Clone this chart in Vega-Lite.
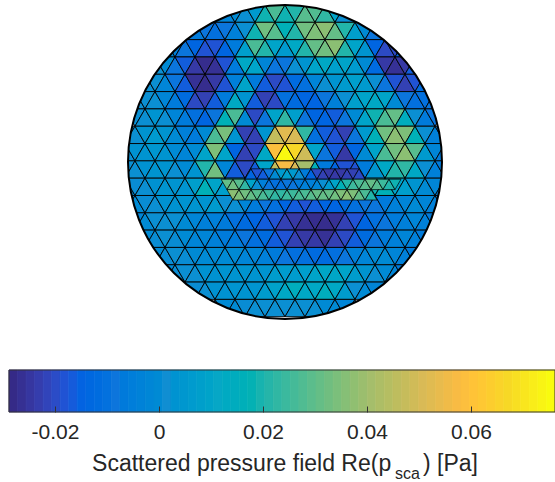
{"$schema":"https://vega.github.io/schema/vega-lite/v6.json","padding":0,"background":"white","spacing":0,"config":{"view":{"stroke":null}},
"datasets":{"tri":[
{"i":-7,"j":0,"v":-0.005,"s":1},{"i":-6,"j":0,"v":-0.003,"s":0},{"i":-5,"j":0,"v":-0.001,"s":1},{"i":-4,"j":0,"v":0.001,"s":0},{"i":-3,"j":0,"v":0.005,"s":1},{"i":-2,"j":0,"v":0.018,"s":0},{"i":-1,"j":0,"v":0.026,"s":1},{"i":0,"j":0,"v":0.018,"s":0},{"i":1,"j":0,"v":0.02,"s":1},{"i":2,"j":0,"v":0.028,"s":0},{"i":3,"j":0,"v":0.027,"s":1},{"i":4,"j":0,"v":0.022,"s":0},{"i":5,"j":0,"v":0.009,"s":1},{"i":6,"j":0,"v":0.001,"s":0},{"i":7,"j":0,"v":-0.003,"s":1},
{"i":-10,"j":1,"v":-0.005,"s":1},{"i":-9,"j":1,"v":-0.007,"s":0},{"i":-8,"j":1,"v":-0.009,"s":1},{"i":-7,"j":1,"v":-0.011,"s":0},{"i":-6,"j":1,"v":-0.009,"s":1},{"i":-5,"j":1,"v":-0.005,"s":0},{"i":-4,"j":1,"v":0.001,"s":1},{"i":-3,"j":1,"v":0.018,"s":0},{"i":-2,"j":1,"v":0.032,"s":1},{"i":-1,"j":1,"v":0.028,"s":0},{"i":0,"j":1,"v":0.016,"s":1},{"i":1,"j":1,"v":0.02,"s":0},{"i":2,"j":1,"v":0.032,"s":1},{"i":3,"j":1,"v":0.034,"s":0},{"i":4,"j":1,"v":0.036,"s":1},{"i":5,"j":1,"v":0.03,"s":0},{"i":6,"j":1,"v":0.02,"s":1},{"i":7,"j":1,"v":0.007,"s":0},{"i":8,"j":1,"v":-0.001,"s":1},{"i":9,"j":1,"v":-0.009,"s":0},{"i":10,"j":1,"v":-0.013,"s":1},
{"i":-12,"j":2,"v":-0.001,"s":0},{"i":-11,"j":2,"v":-0.005,"s":1},{"i":-10,"j":2,"v":-0.009,"s":0},{"i":-9,"j":2,"v":-0.015,"s":1},{"i":-8,"j":2,"v":-0.019,"s":0},{"i":-7,"j":2,"v":-0.019,"s":1},{"i":-6,"j":2,"v":-0.015,"s":0},{"i":-5,"j":2,"v":-0.007,"s":1},{"i":-4,"j":2,"v":0.007,"s":0},{"i":-3,"j":2,"v":0.026,"s":1},{"i":-2,"j":2,"v":0.02,"s":0},{"i":-1,"j":2,"v":0.009,"s":1},{"i":0,"j":2,"v":0.005,"s":0},{"i":1,"j":2,"v":0.011,"s":1},{"i":2,"j":2,"v":0.02,"s":0},{"i":3,"j":2,"v":0.03,"s":1},{"i":4,"j":2,"v":0.032,"s":0},{"i":5,"j":2,"v":0.036,"s":1},{"i":6,"j":2,"v":0.02,"s":0},{"i":7,"j":2,"v":0.009,"s":1},{"i":8,"j":2,"v":0.003,"s":0},{"i":9,"j":2,"v":-0.015,"s":1},{"i":10,"j":2,"v":-0.021,"s":0},{"i":11,"j":2,"v":-0.021,"s":1},{"i":12,"j":2,"v":-0.015,"s":0},
{"i":-13,"j":3,"v":0.001,"s":0},{"i":-12,"j":3,"v":-0.001,"s":1},{"i":-11,"j":3,"v":-0.009,"s":0},{"i":-10,"j":3,"v":-0.017,"s":1},{"i":-9,"j":3,"v":-0.025,"s":0},{"i":-8,"j":3,"v":-0.028,"s":1},{"i":-7,"j":3,"v":-0.027,"s":0},{"i":-6,"j":3,"v":-0.019,"s":1},{"i":-5,"j":3,"v":-0.007,"s":0},{"i":-4,"j":3,"v":0.011,"s":1},{"i":-3,"j":3,"v":0.009,"s":0},{"i":-2,"j":3,"v":-0.003,"s":1},{"i":-1,"j":3,"v":-0.009,"s":0},{"i":0,"j":3,"v":-0.009,"s":1},{"i":1,"j":3,"v":0.001,"s":0},{"i":2,"j":3,"v":0.003,"s":1},{"i":3,"j":3,"v":0.009,"s":0},{"i":4,"j":3,"v":0.011,"s":1},{"i":5,"j":3,"v":0.007,"s":0},{"i":6,"j":3,"v":0.009,"s":1},{"i":7,"j":3,"v":0.005,"s":0},{"i":8,"j":3,"v":-0.001,"s":1},{"i":9,"j":3,"v":-0.013,"s":0},{"i":10,"j":3,"v":-0.025,"s":1},{"i":11,"j":3,"v":-0.027,"s":0},{"i":12,"j":3,"v":-0.025,"s":1},{"i":13,"j":3,"v":-0.017,"s":0},
{"i":-14,"j":4,"v":0.001,"s":0},{"i":-13,"j":4,"v":0.001,"s":1},{"i":-12,"j":4,"v":-0.003,"s":0},{"i":-11,"j":4,"v":-0.009,"s":1},{"i":-10,"j":4,"v":-0.017,"s":0},{"i":-9,"j":4,"v":-0.027,"s":1},{"i":-8,"j":4,"v":-0.028,"s":0},{"i":-7,"j":4,"v":-0.025,"s":1},{"i":-6,"j":4,"v":-0.019,"s":0},{"i":-5,"j":4,"v":-0.005,"s":1},{"i":-4,"j":4,"v":0.009,"s":0},{"i":-3,"j":4,"v":-0.007,"s":1},{"i":-2,"j":4,"v":-0.017,"s":0},{"i":-1,"j":4,"v":-0.021,"s":1},{"i":0,"j":4,"v":-0.019,"s":0},{"i":1,"j":4,"v":-0.013,"s":1},{"i":2,"j":4,"v":-0.011,"s":0},{"i":3,"j":4,"v":-0.003,"s":1},{"i":4,"j":4,"v":0.001,"s":0},{"i":5,"j":4,"v":0.003,"s":1},{"i":6,"j":4,"v":0.005,"s":0},{"i":7,"j":4,"v":0.007,"s":1},{"i":8,"j":4,"v":0.005,"s":0},{"i":9,"j":4,"v":0.001,"s":1},{"i":10,"j":4,"v":-0.009,"s":0},{"i":11,"j":4,"v":-0.019,"s":1},{"i":12,"j":4,"v":-0.023,"s":0},{"i":13,"j":4,"v":-0.019,"s":1},{"i":14,"j":4,"v":-0.013,"s":0},
{"i":-15,"j":5,"v":0.001,"s":0},{"i":-14,"j":5,"v":0.001,"s":1},{"i":-13,"j":5,"v":0.001,"s":0},{"i":-12,"j":5,"v":-0.003,"s":1},{"i":-11,"j":5,"v":-0.007,"s":0},{"i":-10,"j":5,"v":-0.013,"s":1},{"i":-9,"j":5,"v":-0.021,"s":0},{"i":-8,"j":5,"v":-0.023,"s":1},{"i":-7,"j":5,"v":-0.017,"s":0},{"i":-6,"j":5,"v":-0.007,"s":1},{"i":-5,"j":5,"v":0.012,"s":0},{"i":-4,"j":5,"v":0.003,"s":1},{"i":-3,"j":5,"v":-0.017,"s":0},{"i":-2,"j":5,"v":-0.023,"s":1},{"i":-1,"j":5,"v":-0.021,"s":0},{"i":0,"j":5,"v":-0.011,"s":1},{"i":1,"j":5,"v":-0.013,"s":0},{"i":2,"j":5,"v":-0.015,"s":1},{"i":3,"j":5,"v":-0.015,"s":0},{"i":4,"j":5,"v":-0.009,"s":1},{"i":5,"j":5,"v":-0.005,"s":0},{"i":6,"j":5,"v":0.001,"s":1},{"i":7,"j":5,"v":0.007,"s":0},{"i":8,"j":5,"v":0.009,"s":1},{"i":9,"j":5,"v":0.011,"s":0},{"i":10,"j":5,"v":0.009,"s":1},{"i":11,"j":5,"v":-0.001,"s":0},{"i":12,"j":5,"v":-0.009,"s":1},{"i":13,"j":5,"v":-0.011,"s":0},{"i":14,"j":5,"v":-0.011,"s":1},{"i":15,"j":5,"v":-0.009,"s":0},
{"i":-15,"j":6,"v":0.001,"s":1},{"i":-14,"j":6,"v":0.001,"s":0},{"i":-13,"j":6,"v":0.003,"s":1},{"i":-12,"j":6,"v":0.001,"s":0},{"i":-11,"j":6,"v":-0.003,"s":1},{"i":-10,"j":6,"v":-0.007,"s":0},{"i":-9,"j":6,"v":-0.011,"s":1},{"i":-8,"j":6,"v":-0.015,"s":0},{"i":-7,"j":6,"v":-0.009,"s":1},{"i":-6,"j":6,"v":0.016,"s":0},{"i":-5,"j":6,"v":0.026,"s":1},{"i":-4,"j":6,"v":-0.001,"s":0},{"i":-3,"j":6,"v":-0.021,"s":1},{"i":-2,"j":6,"v":-0.009,"s":0},{"i":-1,"j":6,"v":0.009,"s":1},{"i":0,"j":6,"v":0.022,"s":0},{"i":1,"j":6,"v":0.007,"s":1},{"i":2,"j":6,"v":-0.009,"s":0},{"i":3,"j":6,"v":-0.015,"s":1},{"i":4,"j":6,"v":-0.015,"s":0},{"i":5,"j":6,"v":-0.017,"s":1},{"i":6,"j":6,"v":-0.009,"s":0},{"i":7,"j":6,"v":-0.001,"s":1},{"i":8,"j":6,"v":0.009,"s":0},{"i":9,"j":6,"v":0.018,"s":1},{"i":10,"j":6,"v":0.026,"s":0},{"i":11,"j":6,"v":0.03,"s":1},{"i":12,"j":6,"v":0.014,"s":0},{"i":13,"j":6,"v":0.001,"s":1},{"i":14,"j":6,"v":-0.007,"s":0},{"i":15,"j":6,"v":-0.009,"s":1},
{"i":-16,"j":7,"v":0.001,"s":1},{"i":-15,"j":7,"v":0.001,"s":0},{"i":-14,"j":7,"v":0.003,"s":1},{"i":-13,"j":7,"v":0.005,"s":0},{"i":-12,"j":7,"v":0.003,"s":1},{"i":-11,"j":7,"v":-0.001,"s":0},{"i":-10,"j":7,"v":-0.005,"s":1},{"i":-9,"j":7,"v":-0.007,"s":0},{"i":-8,"j":7,"v":-0.001,"s":1},{"i":-7,"j":7,"v":0.026,"s":0},{"i":-6,"j":7,"v":0.033,"s":1},{"i":-5,"j":7,"v":0.003,"s":0},{"i":-4,"j":7,"v":-0.023,"s":1},{"i":-3,"j":7,"v":-0.023,"s":0},{"i":-2,"j":7,"v":0.003,"s":1},{"i":-1,"j":7,"v":0.046,"s":0},{"i":0,"j":7,"v":0.052,"s":1},{"i":1,"j":7,"v":0.05,"s":0},{"i":2,"j":7,"v":0.022,"s":1},{"i":3,"j":7,"v":-0.011,"s":0},{"i":4,"j":7,"v":-0.017,"s":1},{"i":5,"j":7,"v":-0.019,"s":0},{"i":6,"j":7,"v":-0.023,"s":1},{"i":7,"j":7,"v":-0.009,"s":0},{"i":8,"j":7,"v":0.005,"s":1},{"i":9,"j":7,"v":0.016,"s":0},{"i":10,"j":7,"v":0.032,"s":1},{"i":11,"j":7,"v":0.036,"s":0},{"i":12,"j":7,"v":0.034,"s":1},{"i":13,"j":7,"v":0.016,"s":0},{"i":14,"j":7,"v":0.001,"s":1},{"i":15,"j":7,"v":-0.005,"s":0},{"i":16,"j":7,"v":-0.007,"s":1},
{"i":-16,"j":8,"v":0.001,"s":0},{"i":-15,"j":8,"v":0.002,"s":1},{"i":-14,"j":8,"v":0.003,"s":0},{"i":-13,"j":8,"v":0.004,"s":1},{"i":-12,"j":8,"v":0.003,"s":0},{"i":-11,"j":8,"v":-0.001,"s":1},{"i":-10,"j":8,"v":-0.003,"s":0},{"i":-9,"j":8,"v":-0.001,"s":1},{"i":-8,"j":8,"v":0.009,"s":0},{"i":-7,"j":8,"v":0.034,"s":1},{"i":-6,"j":8,"v":0.009,"s":0},{"i":-5,"j":8,"v":-0.015,"s":1},{"i":-4,"j":8,"v":-0.023,"s":0},{"i":-3,"j":8,"v":-0.021,"s":1},{"i":-2,"j":8,"v":0.011,"s":0},{"i":-1,"j":8,"v":0.058,"s":1},{"i":0,"j":8,"v":0.074,"s":0},{"i":1,"j":8,"v":0.066,"s":1},{"i":2,"j":8,"v":0.048,"s":0},{"i":3,"j":8,"v":0.009,"s":1},{"i":4,"j":8,"v":-0.009,"s":0},{"i":5,"j":8,"v":-0.017,"s":1},{"i":6,"j":8,"v":-0.025,"s":0},{"i":7,"j":8,"v":-0.015,"s":1},{"i":8,"j":8,"v":-0.001,"s":0},{"i":9,"j":8,"v":0.009,"s":1},{"i":10,"j":8,"v":0.026,"s":0},{"i":11,"j":8,"v":0.032,"s":1},{"i":12,"j":8,"v":0.036,"s":0},{"i":13,"j":8,"v":0.028,"s":1},{"i":14,"j":8,"v":0.005,"s":0},{"i":15,"j":8,"v":-0.003,"s":1},{"i":16,"j":8,"v":-0.007,"s":0},
{"i":-16,"j":9,"v":0.001,"s":1},{"i":-15,"j":9,"v":0.001,"s":0},{"i":-14,"j":9,"v":0.002,"s":1},{"i":-13,"j":9,"v":0.003,"s":0},{"i":-12,"j":9,"v":0.003,"s":1},{"i":-11,"j":9,"v":0.001,"s":0},{"i":-10,"j":9,"v":-0.001,"s":1},{"i":-9,"j":9,"v":0.003,"s":0},{"i":-8,"j":9,"v":0.02,"s":1},{"i":-7,"j":9,"v":0.032,"s":0},{"i":-6,"j":9,"v":-0.003,"s":1},{"i":-5,"j":9,"v":-0.017,"s":0},{"i":-4,"j":9,"v":-0.021,"s":1},{"i":-3,"j":9,"v":-0.017,"s":0},{"i":-2,"j":9,"v":0.009,"s":1},{"i":-1,"j":9,"v":0.046,"s":0},{"i":0,"j":9,"v":0.056,"s":1},{"i":1,"j":9,"v":0.05,"s":0},{"i":2,"j":9,"v":0.04,"s":1},{"i":3,"j":9,"v":0.016,"s":0},{"i":4,"j":9,"v":-0.007,"s":1},{"i":5,"j":9,"v":-0.015,"s":0},{"i":6,"j":9,"v":-0.019,"s":1},{"i":7,"j":9,"v":-0.019,"s":0},{"i":8,"j":9,"v":-0.007,"s":1},{"i":9,"j":9,"v":0.003,"s":0},{"i":10,"j":9,"v":0.011,"s":1},{"i":11,"j":9,"v":0.02,"s":0},{"i":12,"j":9,"v":0.022,"s":1},{"i":13,"j":9,"v":0.011,"s":0},{"i":14,"j":9,"v":0.001,"s":1},{"i":15,"j":9,"v":-0.005,"s":0},{"i":16,"j":9,"v":-0.007,"s":1},
{"i":-16,"j":10,"v":-0.001,"s":0},{"i":-15,"j":10,"v":0.0,"s":1},{"i":-14,"j":10,"v":0.001,"s":0},{"i":-13,"j":10,"v":0.002,"s":1},{"i":-12,"j":10,"v":0.003,"s":0},{"i":-11,"j":10,"v":0.003,"s":1},{"i":-10,"j":10,"v":0.003,"s":0},{"i":-9,"j":10,"v":0.007,"s":1},{"i":-8,"j":10,"v":0.016,"s":0},{"i":-7,"j":10,"v":0.009,"s":1},{"i":-6,"j":10,"v":0.007,"s":0},{"i":-5,"j":10,"v":0.018,"s":1},{"i":-4,"j":10,"v":0.009,"s":0},{"i":-3,"j":10,"v":0.001,"s":1},{"i":-2,"j":10,"v":-0.007,"s":0},{"i":-1,"j":10,"v":-0.013,"s":1},{"i":0,"j":10,"v":-0.017,"s":0},{"i":1,"j":10,"v":-0.015,"s":1},{"i":2,"j":10,"v":-0.009,"s":0},{"i":3,"j":10,"v":-0.013,"s":1},{"i":4,"j":10,"v":-0.015,"s":0},{"i":5,"j":10,"v":-0.011,"s":1},{"i":6,"j":10,"v":-0.001,"s":0},{"i":7,"j":10,"v":0.005,"s":1},{"i":8,"j":10,"v":0.009,"s":0},{"i":9,"j":10,"v":0.018,"s":1},{"i":10,"j":10,"v":0.016,"s":0},{"i":11,"j":10,"v":0.009,"s":1},{"i":12,"j":10,"v":0.007,"s":0},{"i":13,"j":10,"v":0.003,"s":1},{"i":14,"j":10,"v":-0.001,"s":0},{"i":15,"j":10,"v":-0.003,"s":1},{"i":16,"j":10,"v":-0.005,"s":0},
{"i":-16,"j":11,"v":-0.003,"s":1},{"i":-15,"j":11,"v":-0.001,"s":0},{"i":-14,"j":11,"v":0.0,"s":1},{"i":-13,"j":11,"v":0.001,"s":0},{"i":-12,"j":11,"v":0.002,"s":1},{"i":-11,"j":11,"v":0.002,"s":0},{"i":-10,"j":11,"v":0.003,"s":1},{"i":-9,"j":11,"v":0.003,"s":0},{"i":-8,"j":11,"v":0.003,"s":1},{"i":-7,"j":11,"v":0.005,"s":0},{"i":-6,"j":11,"v":0.001,"s":1},{"i":-5,"j":11,"v":0.001,"s":0},{"i":-4,"j":11,"v":-0.003,"s":1},{"i":-3,"j":11,"v":-0.007,"s":0},{"i":-2,"j":11,"v":-0.009,"s":1},{"i":-1,"j":11,"v":-0.011,"s":0},{"i":0,"j":11,"v":-0.015,"s":1},{"i":1,"j":11,"v":-0.017,"s":0},{"i":2,"j":11,"v":-0.019,"s":1},{"i":3,"j":11,"v":-0.017,"s":0},{"i":4,"j":11,"v":-0.015,"s":1},{"i":5,"j":11,"v":-0.015,"s":0},{"i":6,"j":11,"v":-0.013,"s":1},{"i":7,"j":11,"v":-0.011,"s":0},{"i":8,"j":11,"v":-0.009,"s":1},{"i":9,"j":11,"v":-0.009,"s":0},{"i":10,"j":11,"v":-0.007,"s":1},{"i":11,"j":11,"v":-0.005,"s":0},{"i":12,"j":11,"v":-0.003,"s":1},{"i":13,"j":11,"v":-0.001,"s":0},{"i":14,"j":11,"v":-0.003,"s":1},{"i":15,"j":11,"v":-0.005,"s":0},{"i":16,"j":11,"v":-0.007,"s":1},
{"i":-15,"j":12,"v":-0.003,"s":1},{"i":-14,"j":12,"v":-0.001,"s":0},{"i":-13,"j":12,"v":0.001,"s":1},{"i":-12,"j":12,"v":0.001,"s":0},{"i":-11,"j":12,"v":0.001,"s":1},{"i":-10,"j":12,"v":-0.001,"s":0},{"i":-9,"j":12,"v":-0.003,"s":1},{"i":-8,"j":12,"v":-0.005,"s":0},{"i":-7,"j":12,"v":-0.005,"s":1},{"i":-6,"j":12,"v":-0.007,"s":0},{"i":-5,"j":12,"v":-0.011,"s":1},{"i":-4,"j":12,"v":-0.013,"s":0},{"i":-3,"j":12,"v":-0.015,"s":1},{"i":-2,"j":12,"v":-0.017,"s":0},{"i":-1,"j":12,"v":-0.019,"s":1},{"i":0,"j":12,"v":-0.023,"s":0},{"i":1,"j":12,"v":-0.025,"s":1},{"i":2,"j":12,"v":-0.027,"s":0},{"i":3,"j":12,"v":-0.028,"s":1},{"i":4,"j":12,"v":-0.028,"s":0},{"i":5,"j":12,"v":-0.027,"s":1},{"i":6,"j":12,"v":-0.023,"s":0},{"i":7,"j":12,"v":-0.019,"s":1},{"i":8,"j":12,"v":-0.015,"s":0},{"i":9,"j":12,"v":-0.011,"s":1},{"i":10,"j":12,"v":-0.009,"s":0},{"i":11,"j":12,"v":-0.007,"s":1},{"i":12,"j":12,"v":-0.005,"s":0},{"i":13,"j":12,"v":-0.003,"s":1},{"i":14,"j":12,"v":-0.005,"s":0},{"i":15,"j":12,"v":-0.007,"s":1},
{"i":-14,"j":13,"v":-0.001,"s":1},{"i":-13,"j":13,"v":0.0,"s":0},{"i":-12,"j":13,"v":0.001,"s":1},{"i":-11,"j":13,"v":0.0,"s":0},{"i":-10,"j":13,"v":-0.001,"s":1},{"i":-9,"j":13,"v":-0.003,"s":0},{"i":-8,"j":13,"v":-0.003,"s":1},{"i":-7,"j":13,"v":-0.005,"s":0},{"i":-6,"j":13,"v":-0.007,"s":1},{"i":-5,"j":13,"v":-0.007,"s":0},{"i":-4,"j":13,"v":-0.009,"s":1},{"i":-3,"j":13,"v":-0.011,"s":0},{"i":-2,"j":13,"v":-0.013,"s":1},{"i":-1,"j":13,"v":-0.017,"s":0},{"i":0,"j":13,"v":-0.019,"s":1},{"i":1,"j":13,"v":-0.023,"s":0},{"i":2,"j":13,"v":-0.025,"s":1},{"i":3,"j":13,"v":-0.025,"s":0},{"i":4,"j":13,"v":-0.027,"s":1},{"i":5,"j":13,"v":-0.023,"s":0},{"i":6,"j":13,"v":-0.021,"s":1},{"i":7,"j":13,"v":-0.017,"s":0},{"i":8,"j":13,"v":-0.013,"s":1},{"i":9,"j":13,"v":-0.009,"s":0},{"i":10,"j":13,"v":-0.007,"s":1},{"i":11,"j":13,"v":-0.005,"s":0},{"i":12,"j":13,"v":-0.003,"s":1},{"i":13,"j":13,"v":-0.005,"s":0},{"i":14,"j":13,"v":-0.007,"s":1},
{"i":-13,"j":14,"v":-0.001,"s":1},{"i":-12,"j":14,"v":0.0,"s":0},{"i":-11,"j":14,"v":0.001,"s":1},{"i":-10,"j":14,"v":0.0,"s":0},{"i":-9,"j":14,"v":-0.001,"s":1},{"i":-8,"j":14,"v":-0.001,"s":0},{"i":-7,"j":14,"v":-0.001,"s":1},{"i":-6,"j":14,"v":-0.001,"s":0},{"i":-5,"j":14,"v":-0.001,"s":1},{"i":-4,"j":14,"v":-0.003,"s":0},{"i":-3,"j":14,"v":-0.003,"s":1},{"i":-2,"j":14,"v":-0.005,"s":0},{"i":-1,"j":14,"v":-0.007,"s":1},{"i":0,"j":14,"v":-0.009,"s":0},{"i":1,"j":14,"v":-0.011,"s":1},{"i":2,"j":14,"v":-0.011,"s":0},{"i":3,"j":14,"v":-0.013,"s":1},{"i":4,"j":14,"v":-0.013,"s":0},{"i":5,"j":14,"v":-0.011,"s":1},{"i":6,"j":14,"v":-0.009,"s":0},{"i":7,"j":14,"v":-0.005,"s":1},{"i":8,"j":14,"v":-0.003,"s":0},{"i":9,"j":14,"v":-0.001,"s":1},{"i":10,"j":14,"v":-0.001,"s":0},{"i":11,"j":14,"v":-0.003,"s":1},{"i":12,"j":14,"v":-0.005,"s":0},{"i":13,"j":14,"v":-0.007,"s":1},
{"i":-12,"j":15,"v":-0.001,"s":1},{"i":-11,"j":15,"v":0.0,"s":0},{"i":-10,"j":15,"v":0.001,"s":1},{"i":-9,"j":15,"v":0.001,"s":0},{"i":-8,"j":15,"v":0.002,"s":1},{"i":-7,"j":15,"v":0.002,"s":0},{"i":-6,"j":15,"v":0.003,"s":1},{"i":-5,"j":15,"v":0.003,"s":0},{"i":-4,"j":15,"v":0.003,"s":1},{"i":-3,"j":15,"v":0.003,"s":0},{"i":-2,"j":15,"v":0.003,"s":1},{"i":-1,"j":15,"v":0.006,"s":0},{"i":0,"j":15,"v":0.006,"s":1},{"i":1,"j":15,"v":0.006,"s":0},{"i":2,"j":15,"v":0.007,"s":1},{"i":3,"j":15,"v":0.009,"s":0},{"i":4,"j":15,"v":0.01,"s":1},{"i":5,"j":15,"v":0.01,"s":0},{"i":6,"j":15,"v":0.009,"s":1},{"i":7,"j":15,"v":0.006,"s":0},{"i":8,"j":15,"v":0.003,"s":1},{"i":9,"j":15,"v":0.001,"s":0},{"i":10,"j":15,"v":-0.001,"s":1},{"i":11,"j":15,"v":-0.003,"s":0},{"i":12,"j":15,"v":-0.007,"s":1},
{"i":-10,"j":16,"v":-0.001,"s":0},{"i":-9,"j":16,"v":0.0,"s":1},{"i":-8,"j":16,"v":0.001,"s":0},{"i":-7,"j":16,"v":0.002,"s":1},{"i":-6,"j":16,"v":0.002,"s":0},{"i":-5,"j":16,"v":0.003,"s":1},{"i":-4,"j":16,"v":0.003,"s":0},{"i":-3,"j":16,"v":0.003,"s":1},{"i":-2,"j":16,"v":0.006,"s":0},{"i":-1,"j":16,"v":0.008,"s":1},{"i":0,"j":16,"v":0.011,"s":0},{"i":1,"j":16,"v":0.014,"s":1},{"i":2,"j":16,"v":0.011,"s":0},{"i":3,"j":16,"v":0.011,"s":1},{"i":4,"j":16,"v":0.014,"s":0},{"i":5,"j":16,"v":0.011,"s":1},{"i":6,"j":16,"v":0.006,"s":0},{"i":7,"j":16,"v":0.001,"s":1},{"i":8,"j":16,"v":-0.001,"s":0},{"i":9,"j":16,"v":-0.003,"s":1},{"i":10,"j":16,"v":-0.005,"s":0},
{"i":-7,"j":17,"v":-0.003,"s":0},{"i":-6,"j":17,"v":-0.001,"s":1},{"i":-5,"j":17,"v":-0.001,"s":0},{"i":-4,"j":17,"v":0.0,"s":1},{"i":-3,"j":17,"v":0.001,"s":0},{"i":-2,"j":17,"v":0.001,"s":1},{"i":-1,"j":17,"v":0.001,"s":0},{"i":0,"j":17,"v":0.001,"s":1},{"i":1,"j":17,"v":0.001,"s":0},{"i":2,"j":17,"v":0.001,"s":1},{"i":3,"j":17,"v":0.001,"s":0},{"i":4,"j":17,"v":-0.001,"s":1},{"i":5,"j":17,"v":-0.001,"s":0},{"i":6,"j":17,"v":-0.003,"s":1},{"i":7,"j":17,"v":-0.005,"s":0}
],
"floor":[
{"i":-3.4,"j":9.26,"v":-0.015,"s":0},{"i":-2.8,"j":9.26,"v":-0.019,"s":1},{"i":-2.2,"j":9.26,"v":-0.017,"s":0},{"i":-1.6,"j":9.26,"v":-0.009,"s":1},{"i":-1,"j":9.26,"v":-0.001,"s":0},{"i":-0.4,"j":9.26,"v":0.005,"s":1},{"i":0.2,"j":9.26,"v":0.007,"s":0},{"i":0.8,"j":9.26,"v":0.005,"s":1},{"i":1.4,"j":9.26,"v":0.001,"s":0},{"i":2,"j":9.26,"v":-0.007,"s":1},{"i":2.6,"j":9.26,"v":-0.015,"s":0},{"i":3.2,"j":9.26,"v":-0.021,"s":1},{"i":3.8,"j":9.26,"v":-0.023,"s":0},{"i":4.4,"j":9.26,"v":-0.025,"s":1},{"i":5,"j":9.26,"v":-0.025,"s":0},{"i":5.6,"j":9.26,"v":-0.025,"s":1},{"i":6.2,"j":9.26,"v":-0.023,"s":0},{"i":6.8,"j":9.26,"v":-0.023,"s":1},{"i":7.4,"j":9.26,"v":-0.021,"s":0},
{"i":-5.8,"j":9.86,"v":0.03,"s":1},{"i":-5.2,"j":9.86,"v":0.032,"s":0},{"i":-4.6,"j":9.86,"v":0.028,"s":1},{"i":-4,"j":9.86,"v":0.022,"s":0},{"i":-3.4,"j":9.86,"v":0.009,"s":1},{"i":-2.8,"j":9.86,"v":0.001,"s":0},{"i":-2.2,"j":9.86,"v":-0.005,"s":1},{"i":-1.6,"j":9.86,"v":-0.009,"s":0},{"i":-1,"j":9.86,"v":-0.011,"s":1},{"i":-0.4,"j":9.86,"v":-0.011,"s":0},{"i":0.2,"j":9.86,"v":-0.009,"s":1},{"i":0.8,"j":9.86,"v":-0.009,"s":0},{"i":1.4,"j":9.86,"v":-0.007,"s":1},{"i":2,"j":9.86,"v":-0.005,"s":0},{"i":2.6,"j":9.86,"v":-0.005,"s":1},{"i":3.2,"j":9.86,"v":-0.003,"s":0},{"i":3.8,"j":9.86,"v":0.001,"s":1},{"i":4.4,"j":9.86,"v":0.005,"s":0},{"i":5,"j":9.86,"v":0.009,"s":1},{"i":5.6,"j":9.86,"v":0.016,"s":0},{"i":6.2,"j":9.86,"v":0.02,"s":1},{"i":6.8,"j":9.86,"v":0.024,"s":0},{"i":7.4,"j":9.86,"v":0.026,"s":1},{"i":8,"j":9.86,"v":0.028,"s":0},{"i":8.6,"j":9.86,"v":0.03,"s":1},{"i":9.2,"j":9.86,"v":0.028,"s":0},{"i":9.8,"j":9.86,"v":0.024,"s":1},{"i":10.4,"j":9.86,"v":0.02,"s":0},{"i":11,"j":9.86,"v":0.018,"s":1},
{"i":-5.2,"j":10.46,"v":0.036,"s":1},{"i":-4.6,"j":10.46,"v":0.034,"s":0},{"i":-4,"j":10.46,"v":0.032,"s":1},{"i":-3.4,"j":10.46,"v":0.03,"s":0},{"i":-2.8,"j":10.46,"v":0.028,"s":1},{"i":-2.2,"j":10.46,"v":0.026,"s":0},{"i":-1.6,"j":10.46,"v":0.024,"s":1},{"i":-1,"j":10.46,"v":0.022,"s":0},{"i":-0.4,"j":10.46,"v":0.022,"s":1},{"i":0.2,"j":10.46,"v":0.024,"s":0},{"i":0.8,"j":10.46,"v":0.024,"s":1},{"i":1.4,"j":10.46,"v":0.026,"s":0},{"i":2,"j":10.46,"v":0.026,"s":1},{"i":2.6,"j":10.46,"v":0.028,"s":0},{"i":3.2,"j":10.46,"v":0.03,"s":1},{"i":3.8,"j":10.46,"v":0.03,"s":0},{"i":4.4,"j":10.46,"v":0.03,"s":1},{"i":5,"j":10.46,"v":0.032,"s":0},{"i":5.6,"j":10.46,"v":0.034,"s":1},{"i":6.2,"j":10.46,"v":0.036,"s":0},{"i":6.8,"j":10.46,"v":0.034,"s":1},{"i":7.4,"j":10.46,"v":0.03,"s":0},{"i":8,"j":10.46,"v":0.026,"s":1},{"i":8.6,"j":10.46,"v":0.02,"s":0}
],
"bar":[
{"a":-0.02885,"b":-0.02721},{"a":-0.02721,"b":-0.02557},{"a":-0.02557,"b":-0.02393},{"a":-0.02393,"b":-0.02229},{"a":-0.02229,"b":-0.02065},{"a":-0.02065,"b":-0.01901},{"a":-0.01901,"b":-0.01737},{"a":-0.01737,"b":-0.01573},{"a":-0.01573,"b":-0.01409},{"a":-0.01409,"b":-0.01245},{"a":-0.01245,"b":-0.01081},{"a":-0.01081,"b":-0.00917},{"a":-0.00917,"b":-0.00753},{"a":-0.00753,"b":-0.00589},{"a":-0.00589,"b":-0.00425},{"a":-0.00425,"b":-0.00261},{"a":-0.00261,"b":-0.00097},{"a":-0.00097,"b":0.00067},{"a":0.00067,"b":0.00231},{"a":0.00231,"b":0.00395},{"a":0.00395,"b":0.00559},{"a":0.00559,"b":0.00723},{"a":0.00723,"b":0.00887},{"a":0.00887,"b":0.01051},{"a":0.01051,"b":0.01215},{"a":0.01215,"b":0.01379},{"a":0.01379,"b":0.01543},{"a":0.01543,"b":0.01707},{"a":0.01707,"b":0.01871},{"a":0.01871,"b":0.02035},{"a":0.02035,"b":0.02199},{"a":0.02199,"b":0.02363},{"a":0.02363,"b":0.02527},{"a":0.02527,"b":0.02691},{"a":0.02691,"b":0.02855},{"a":0.02855,"b":0.03019},{"a":0.03019,"b":0.03183},{"a":0.03183,"b":0.03347},{"a":0.03347,"b":0.03511},{"a":0.03511,"b":0.03675},{"a":0.03675,"b":0.03839},{"a":0.03839,"b":0.04003},{"a":0.04003,"b":0.04167},{"a":0.04167,"b":0.04331},{"a":0.04331,"b":0.04495},{"a":0.04495,"b":0.04659},{"a":0.04659,"b":0.04823},{"a":0.04823,"b":0.04987},{"a":0.04987,"b":0.05151},{"a":0.05151,"b":0.05315},{"a":0.05315,"b":0.05479},{"a":0.05479,"b":0.05643},{"a":0.05643,"b":0.05807},{"a":0.05807,"b":0.05971},{"a":0.05971,"b":0.06135},{"a":0.06135,"b":0.06299},{"a":0.06299,"b":0.06463},{"a":0.06463,"b":0.06627},{"a":0.06627,"b":0.06791},{"a":0.06791,"b":0.06955},{"a":0.06955,"b":0.07119},{"a":0.07119,"b":0.07283},{"a":0.07283,"b":0.07447},{"a":0.07447,"b":0.07615}
]},
"vconcat":[
{"width":555,"height":369,
"encoding":{
"x":{"field":"i","type":"quantitative","axis":null,"scale":{"domain":[-28.5,27],"nice":false,"zero":false}},
"y":{"field":"j","type":"quantitative","axis":null,"scale":{"domain":[20.52,-0.789],"nice":false,"zero":false}}},
"layer":[
{"data":{"name":"tri"},"mark":{"type":"point","filled":true,"opacity":1,"stroke":"#000","strokeWidth":0.9,"size":400,"clip":true},
"encoding":{"fill":{"field":"v","type":"quantitative","legend":null,"scale":{"domain":[-0.02885,-0.02393,-0.01901,-0.01573,-0.00917,0.00067,0.01051,0.02035,0.03019,0.04003,0.04987,0.05643,0.05971,0.06627,0.07447],"range":["#352a87","#353dad","#2053d4","#0363e1","#0d75dc","#108ed2","#06a7c6","#25b5a9","#65be86","#a5be6b","#d9ba56","#f8bb44","#ffc337","#f7d826","#f9fb0e"]}},
"shape":{"field":"s","type":"nominal","legend":null,"scale":{"domain":[0,1],"range":["triangle-up","triangle-down"]}}}},
{"data":{"name":"floor"},"mark":{"type":"point","filled":true,"opacity":1,"stroke":"#000","strokeWidth":0.7,"size":144,"clip":true},
"encoding":{"fill":{"field":"v","type":"quantitative","legend":null,"scale":{"domain":[-0.02885,-0.02393,-0.01901,-0.01573,-0.00917,0.00067,0.01051,0.02035,0.03019,0.04003,0.04987,0.05643,0.05971,0.06627,0.07447],"range":["#352a87","#353dad","#2053d4","#0363e1","#0d75dc","#108ed2","#06a7c6","#25b5a9","#65be86","#a5be6b","#d9ba56","#f8bb44","#ffc337","#f7d826","#f9fb0e"]}},
"shape":{"field":"s","type":"nominal","legend":null,"scale":{"domain":[0,1],"range":["triangle-up","triangle-down"]}}}},
{"data":{"values":[{"i":0,"j":8.565}]},"mark":{"type":"point","filled":false,"opacity":1,"stroke":"white","strokeWidth":40,"size":125316,"clip":true}},
{"data":{"values":[{"i":0,"j":8.565}]},"mark":{"type":"point","filled":false,"opacity":1,"stroke":"#000","strokeWidth":2,"size":98596,"clip":true}}
]},
{"width":555,"height":42,
"layer":[
{"data":{"name":"bar"},"mark":{"type":"rect","strokeWidth":0.7},
"encoding":{"x":{"field":"a","type":"quantitative","scale":{"domain":[-0.03058,0.07615],"nice":false,"zero":false},
"axis":{"values":[-0.02,0,0.02,0.04,0.06],"title":null,"grid":false,"domain":false,"ticks":true,"tickSize":-6,"tickColor":"#333","tickWidth":1,"labelFont":"Liberation Sans","labelFontSize":21,"labelColor":"#262626","labelPadding":15,"labelExpr":"''+datum.value","zindex":1}},
"x2":{"field":"b"},
"fill":{"field":"a","type":"quantitative","legend":null,"scale":{"domain":[-0.02885,-0.02393,-0.01901,-0.01573,-0.00917,0.00067,0.01051,0.02035,0.03019,0.04003,0.04987,0.05643,0.05971,0.06627,0.07447],"range":["#352a87","#353dad","#2053d4","#0363e1","#0d75dc","#108ed2","#06a7c6","#25b5a9","#65be86","#a5be6b","#d9ba56","#f8bb44","#ffc337","#f7d826","#f9fb0e"]}},
"stroke":{"field":"a","type":"quantitative","legend":null,"scale":{"domain":[-0.02885,-0.02393,-0.01901,-0.01573,-0.00917,0.00067,0.01051,0.02035,0.03019,0.04003,0.04987,0.05643,0.05971,0.06627,0.07447],"range":["#352a87","#353dad","#2053d4","#0363e1","#0d75dc","#108ed2","#06a7c6","#25b5a9","#65be86","#a5be6b","#d9ba56","#f8bb44","#ffc337","#f7d826","#f9fb0e"]}}}},
{"data":{"values":[{"a":-0.02885,"b":0.07615}]},"mark":{"type":"rect","fill":null,"stroke":"#333","strokeWidth":1},"encoding":{"x":{"field":"a","type":"quantitative"},"x2":{"field":"b"}}},
{"data":{"values":[{"a":-0.01288,"h":-1.238,"t":"Scattered pressure field Re(p"},{"a":0.05077,"h":-1.238,"t":") [Pa]"}]},"mark":{"type":"text","align":"left","baseline":"middle","font":"Liberation Sans","fontSize":23,"color":"#262626"},"encoding":{"x":{"field":"a","type":"quantitative"},"y":{"field":"h","type":"quantitative","axis":null,"scale":{"domain":[0,1],"nice":false,"zero":false}},"text":{"field":"t"}}},
{"data":{"values":[{"a":0.04538,"h":-1.488,"t":"sca"}]},"mark":{"type":"text","align":"left","baseline":"middle","font":"Liberation Sans","fontSize":16,"color":"#262626"},"encoding":{"x":{"field":"a","type":"quantitative"},"y":{"field":"h","type":"quantitative","axis":null,"scale":{"domain":[0,1],"nice":false,"zero":false}},"text":{"field":"t"}}}
]}
]}
